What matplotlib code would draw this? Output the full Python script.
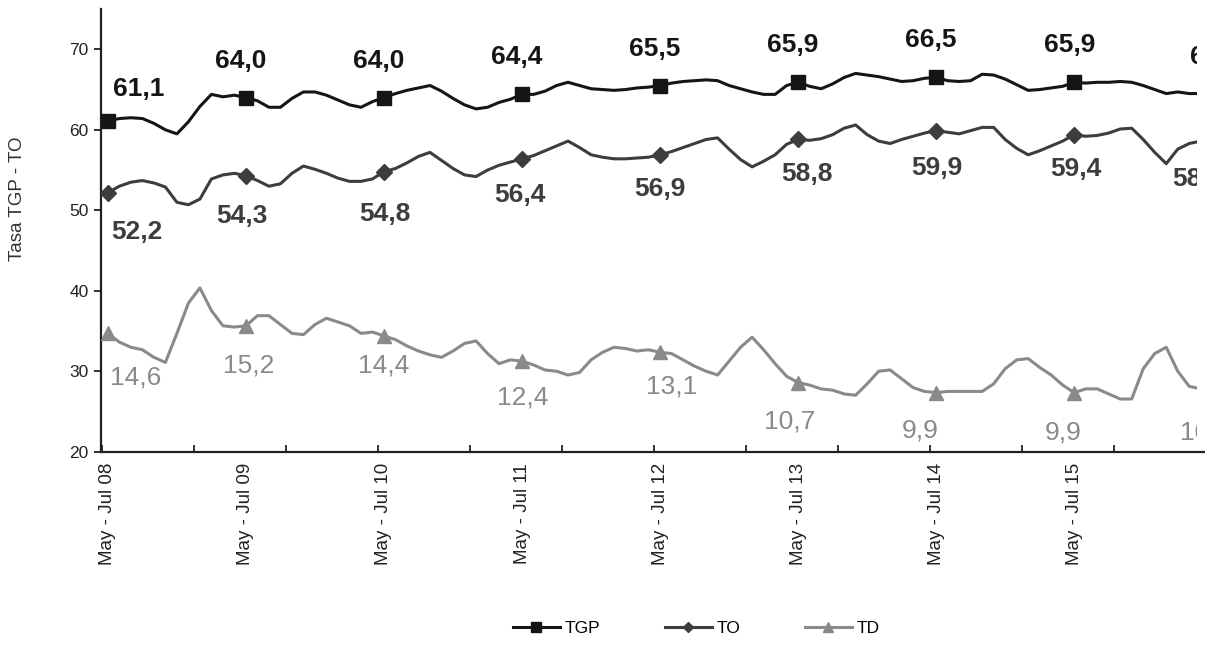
import matplotlib.pyplot as plt
from matplotlib.lines import Line2D
from matplotlib.patches import Rectangle
import numpy as np

plt.rcParams['font.family'] = ['Liberation Sans', 'DejaVu Sans']

# trimestres moviles, mayo-julio 2008 a mayo-julio 2016
meses = ['Ene', 'Feb', 'Mar', 'Abr', 'May', 'Jun', 'Jul', 'Ago', 'Sep', 'Oct', 'Nov', 'Dic']
periodos = []
for k in range(97):
    ini = meses[(4 + k) % 12]
    fin = meses[(6 + k) % 12]
    anio = 8 + (6 + k) // 12
    periodos.append(f"{ini} - {fin} {anio:02d}")

tgp = [61.1, 61.4, 61.5, 61.4, 60.8, 60.0, 59.5, 61.0, 62.9, 64.4,
       64.1, 64.3, 64.0, 63.6, 62.8, 62.8, 63.9, 64.7, 64.7, 64.3,
       63.7, 63.1, 62.8, 63.5, 64.0, 64.5, 64.9, 65.2, 65.5, 64.8,
       63.9, 63.1, 62.6, 62.8, 63.4, 63.8, 64.4, 64.4, 64.8, 65.5,
       65.9, 65.5, 65.1, 65.0, 64.9, 65.0, 65.2, 65.3, 65.5, 65.8,
       66.0, 66.1, 66.2, 66.1, 65.5, 65.1, 64.7, 64.4, 64.4, 65.5,
       65.9, 65.4, 65.1, 65.7, 66.5, 67.0, 66.8, 66.6, 66.3, 66.0,
       66.1, 66.4, 66.5, 66.1, 66.0, 66.1, 66.9, 66.8, 66.3, 65.6,
       64.9, 65.0, 65.2, 65.4, 65.9, 65.8, 65.9, 65.9, 66.0, 65.9,
       65.5, 65.0, 64.5, 64.7, 64.5, 64.5, 64.4]

to = [52.2, 53.0, 53.5, 53.7, 53.4, 52.9, 51.0, 50.7, 51.4, 53.9,
      54.4, 54.6, 54.3, 53.7, 53.0, 53.3, 54.6, 55.5, 55.1, 54.6,
      54.0, 53.6, 53.6, 53.9, 54.8, 55.2, 55.9, 56.7, 57.2, 56.2,
      55.2, 54.4, 54.2, 55.0, 55.6, 56.0, 56.4, 56.8, 57.4, 58.0,
      58.6, 57.8, 56.9, 56.6, 56.4, 56.4, 56.5, 56.6, 56.9, 57.3,
      57.8, 58.3, 58.8, 59.0, 57.6, 56.3, 55.4, 56.1, 56.9, 58.2,
      58.8, 58.7, 58.9, 59.4, 60.2, 60.6, 59.4, 58.6, 58.3, 58.8,
      59.2, 59.6, 59.9, 59.7, 59.5, 59.9, 60.3, 60.3, 58.8, 57.7,
      56.9, 57.4, 58.0, 58.6, 59.4, 59.2, 59.3, 59.6, 60.1, 60.2,
      58.8, 57.2, 55.8, 57.6, 58.3, 58.6, 58.8]

td = [14.6, 13.9, 13.5, 13.3, 12.7, 12.3, 14.6, 17.0, 18.2, 16.4,
      15.2, 15.1, 15.2, 16.0, 16.0, 15.3, 14.6, 14.5, 15.3, 15.8,
      15.5, 15.2, 14.6, 14.7, 14.4, 14.1, 13.6, 13.2, 12.9, 12.7,
      13.2, 13.8, 14.0, 13.0, 12.2, 12.5, 12.4, 12.1, 11.7, 11.6,
      11.3, 11.5, 12.5, 13.1, 13.5, 13.4, 13.2, 13.3, 13.1, 13.0,
      12.5, 12.0, 11.6, 11.3, 12.4, 13.5, 14.3, 13.3, 12.2, 11.2,
      10.7, 10.5, 10.2, 10.1, 9.8, 9.7, 10.6, 11.6, 11.7, 11.0,
      10.3, 10.0, 9.9, 10.0, 10.0, 10.0, 10.0, 10.6, 11.8, 12.5,
      12.6, 11.9, 11.3, 10.5, 9.9, 10.2, 10.2, 9.8, 9.4, 9.4,
      11.8, 13.0, 13.5, 11.6, 10.4, 10.2, 10.1]

idx_etiq = [0, 12, 24, 36, 48, 60, 72, 84, 96]
tgp_etiq = [61.1, 64.0, 64.0, 64.4, 65.5, 65.9, 66.5, 65.9, 64.6]
to_etiq = [52.2, 54.3, 54.8, 56.4, 56.9, 58.8, 59.9, 59.4, 58.8]
td_etiq = [14.6, 15.2, 14.4, 12.4, 13.1, 10.7, 9.9, 9.9, 10.1]

x = np.arange(len(tgp))

c_tgp = '#151515'
c_to = '#3d3d3d'
c_td = '#8a8a8a'

fig = plt.figure(figsize=(12.05, 6.51), dpi=100)
ax = fig.add_axes([101 / 1205, 199 / 651, 1117 / 1205, 443 / 651])
ax.set_xlim(-0.6, 96.5)
ax.set_ylim(20, 75)

ax2 = ax.twinx()
ax2.set_ylim(5.2, 40.3)
ax2.set_yticks([])
for s in ax2.spines.values():
    s.set_visible(False)

ax.plot(x, tgp, color=c_tgp, lw=2.2, marker='s', ms=10, markevery=idx_etiq,
        solid_joinstyle='round', zorder=3)
ax.plot(x, to, color=c_to, lw=2.2, marker='D', ms=8, markevery=idx_etiq,
        solid_joinstyle='round', zorder=3)
ax2.plot(x, td, color=c_td, lw=2.2, marker='^', ms=10, markevery=idx_etiq,
         solid_joinstyle='round', zorder=3)

def fmt(v):
    return f"{v:.1f}".replace('.', ',')

# desplazamientos de las etiquetas en pixeles
off_tgp = [(31, 32)] + [(-5, 37)] * 7 + [(4, 37)]
off_to = [(29, -39)] + [(-4, -40), (1, -42), (-2, -36), (0, -34), (9, -35), (1, -37), (2, -34), (-14, -40)]
off_td = [(28, -44), (3, -40), (0, -30), (1, -36), (12, -34), (-8, -39), (-16, -38), (-11, -40), (-7, -42)]

for k, i in enumerate(idx_etiq):
    ax.annotate(fmt(tgp_etiq[k]), (i, tgp[i]), xytext=off_tgp[k], textcoords='offset pixels',
                ha='center', va='center', fontsize=19, fontweight='bold', color=c_tgp)
    ax.annotate(fmt(to_etiq[k]), (i, to[i]), xytext=off_to[k], textcoords='offset pixels',
                ha='center', va='center', fontsize=19, fontweight='bold', color=c_to)
    ax2.annotate(fmt(td_etiq[k]), (i, td[i]), xytext=off_td[k], textcoords='offset pixels',
                 ha='center', va='center', fontsize=19, color=c_td)

ax.spines['top'].set_visible(False)
ax.spines['right'].set_visible(False)
ax.spines['left'].set_linewidth(1.6)
ax.spines['bottom'].set_linewidth(1.6)
ax.spines['left'].set_color('#222222')
ax.spines['bottom'].set_color('#222222')

ax.set_yticks(range(20, 71, 10))
ax.tick_params(axis='y', direction='out', length=5, width=1.3, labelsize=12.5, colors='#222222', pad=4)

ax.set_xticks(idx_etiq[:-1], [periodos[i] for i in idx_etiq[:-1]])
ax.set_xticks(np.arange(-0.5, 97, 8), minor=True)
ax.tick_params(axis='x', which='major', length=0, pad=8, labelsize=13.5, labelrotation=90, colors='#222222')
ax.tick_params(axis='x', which='minor', direction='in', length=5, width=1.3, color='#222222')

fig.text(18 / 1205, 1 - 199 / 651, 'Tasa TGP - TO', rotation=90, ha='center', va='center',
         fontsize=13.5, color='#333333')

handles = [
    Line2D([], [], color=c_tgp, lw=2.2, marker='s', ms=7),
    Line2D([], [], color=c_to, lw=2.2, marker='D', ms=5),
    Line2D([], [], color=c_td, lw=2.2, marker='^', ms=7),
]
fig.legend(handles, ['TGP', 'TO', 'TD'], loc='center', bbox_to_anchor=(0.578, 0.035), ncol=3,
           frameon=False, fontsize=12.5, handlelength=2.7, columnspacing=3.7, handletextpad=0.3)

# el grafico original esta recortado en el borde derecho
fig.add_artist(Rectangle((1197 / 1205, 1 - 449 / 651), 1, 1, transform=fig.transFigure,
                         facecolor='white', edgecolor='none', zorder=10))

fig.savefig('out.png', dpi=100)
